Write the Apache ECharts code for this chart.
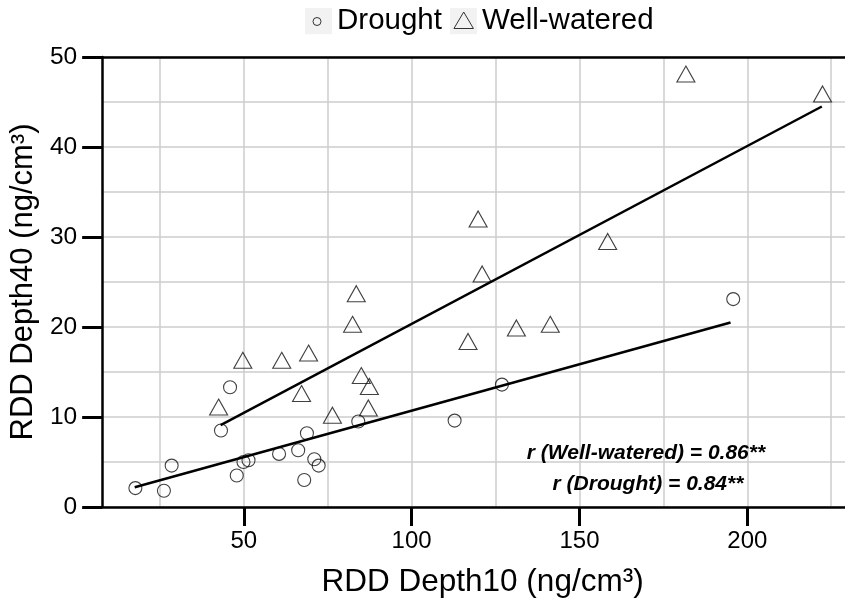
<!DOCTYPE html>
<html>
<head>
<meta charset="utf-8">
<script src="https://cdn.jsdelivr.net/npm/echarts@6/dist/echarts.min.js"></script>
<style>
  html, body { margin: 0; padding: 0; background: #fff; }
  #chart { width: 845px; height: 603px; }
</style>
</head>
<body>
<div id="chart"></div>
<script>
// ---------- data ----------
const seriesNames = ['Drought', 'Well-watered'];

// Drought: [RDD Depth10, RDD Depth40]
const droughtPoints = [
  [17.7, 2.1], [26.2, 1.8], [28.5, 4.6], [45.9, 13.3], [43.2, 8.5],
  [47.9, 3.5], [49.9, 5.0], [51.4, 5.2], [60.5, 5.9], [66.2, 6.3],
  [68.8, 8.2], [68.0, 3.0], [71.0, 5.3], [72.3, 4.6], [84.1, 9.5],
  [112.8, 9.6], [126.9, 13.6], [195.8, 23.1]
];

// Well-watered: [RDD Depth10, RDD Depth40]
const wellWateredPoints = [
  [181.7, 48.1], [222.4, 45.9], [119.8, 32.0], [121.0, 25.9], [158.4, 29.5],
  [83.5, 23.7], [82.4, 20.3], [141.3, 20.3], [131.2, 19.9], [116.8, 18.4],
  [69.3, 17.1], [61.3, 16.3], [49.7, 16.3], [85.0, 14.6], [87.4, 13.4],
  [67.2, 12.6], [87.1, 11.0], [42.5, 11.1], [76.4, 10.2]
];

// regression line end points
const droughtFit = [[17.5, 2.2], [195.0, 20.5]];
const wellWateredFit = [[43.1, 9.1], [222.2, 44.5]];

const xTickLabels = [50, 100, 150, 200];
const xGridValues = [25, 50, 75, 100, 125, 150, 175, 200, 225];
const xMin = 7.8, xMax = 229.1;
const yMin = 0, yMax = 50, yInterval = 10;

const xName = 'RDD Depth10 (ng/cm³)';
const yName = 'RDD Depth40 (ng/cm³)';
const annotationLines = ['r (Well-watered) = 0.86**', 'r (Drought) = 0.84**'];

// ---------- chart ----------
const FONT = '"Liberation Sans", Arial, sans-serif';
const svgIcon = (inner) => 'image://data:image/svg+xml;charset=utf-8,' + encodeURIComponent(
  "<svg xmlns='http://www.w3.org/2000/svg' width='27' height='27' viewBox='0 0 27 27'>" +
  "<rect width='27' height='27' fill='#efefef'/>" + inner + "</svg>");
const circleIcon = svgIcon("<circle cx='12' cy='14' r='4' fill='none' stroke='#000' stroke-width='1'/>");
const triIcon = svgIcon("<polygon points='4,21 23.5,21 13.75,4.5' fill='none' stroke='#000' stroke-width='1'/>");

const gridLine = { show: true, lineStyle: { color: '#cdcdcd', width: 1.5 } };

const chart = echarts.init(document.getElementById('chart'), null, { renderer: 'canvas' });
chart.setOption({
  animation: false,
  backgroundColor: '#fff',
  textStyle: { fontFamily: FONT },
  grid: { left: 99.5, right: 0, top: 57, bottom: 93 },
  legend: {
    left: 305, top: 6, padding: 0, itemGap: 8,
    itemWidth: 27, itemHeight: 27,
    data: [
      { name: seriesNames[0], icon: circleIcon },
      { name: seriesNames[1], icon: triIcon }
    ],
    textStyle: { fontSize: 29.5, color: '#000', fontFamily: FONT }
  },
  xAxis: [
    {
      type: 'value', min: xMin, max: xMax, position: 'bottom',
      name: xName, nameLocation: 'middle', nameGap: 59,
      nameTextStyle: { fontSize: 31.5, color: '#000', fontFamily: FONT, padding: [0, 0, 0, 18] },
      axisLine: { show: true, onZero: false, lineStyle: { color: '#000', width: 2.5 } },
      axisTick: { show: true, inside: false, length: 19, customValues: xTickLabels, lineStyle: { color: '#000', width: 3 } },
      axisLabel: { show: true, customValues: xTickLabels, fontSize: 24, color: '#000', margin: 22, fontFamily: FONT },
      splitLine: { show: false }
    },
    {
      type: 'value', min: xMin, max: xMax, position: 'top',
      axisLine: { show: true, onZero: false, lineStyle: { color: '#000', width: 2.5 } },
      axisTick: { show: false, customValues: xGridValues },
      axisLabel: { show: false },
      splitLine: gridLine
    }
  ],
  yAxis: {
    type: 'value', min: yMin, max: yMax, interval: yInterval,
    name: yName, nameLocation: 'middle', nameGap: 58,
    nameTextStyle: { fontSize: 31, color: '#000', fontFamily: FONT },
    axisLine: { show: true, onZero: false, lineStyle: { color: '#000', width: 2.5 } },
    axisTick: { show: true, inside: false, length: 20, lineStyle: { color: '#000', width: 3 } },
    axisLabel: { fontSize: 24.5, color: '#000', margin: 25, fontFamily: FONT },
    splitLine: gridLine,
    minorTick: { show: false, splitNumber: 2 },
    minorSplitLine: gridLine
  },
  series: [
    {
      name: seriesNames[0], type: 'scatter', xAxisIndex: 0,
      data: droughtPoints, symbol: 'circle', symbolSize: 13,
      itemStyle: { color: 'rgba(0,0,0,0)', borderColor: '#111', borderWidth: 1.1 },
      z: 3
    },
    {
      name: seriesNames[1], type: 'scatter', xAxisIndex: 0,
      data: wellWateredPoints, symbol: 'triangle', symbolSize: [18, 16],
      itemStyle: { color: 'rgba(0,0,0,0)', borderColor: '#111', borderWidth: 1.1 },
      z: 3
    },
    {
      name: 'Drought fit', type: 'line', xAxisIndex: 0, data: droughtFit,
      showSymbol: false, symbol: 'none', silent: true,
      lineStyle: { color: '#000', width: 2.5 }, z: 4
    },
    {
      name: 'Well-watered fit', type: 'line', xAxisIndex: 0, data: wellWateredFit,
      showSymbol: false, symbol: 'none', silent: true,
      lineStyle: { color: '#000', width: 2.5 }, z: 4
    }
  ],
  graphic: [
    {
      type: 'text', x: 646, y: 453, z: 10,
      style: { text: annotationLines[0], align: 'center', verticalAlign: 'middle',
        font: 'italic bold 21px ' + FONT, fill: '#000' }
    },
    {
      type: 'text', x: 648, y: 484, z: 10,
      style: { text: annotationLines[1], align: 'center', verticalAlign: 'middle',
        font: 'italic bold 21px ' + FONT, fill: '#000' }
    }
  ]
});
</script>
</body>
</html>
